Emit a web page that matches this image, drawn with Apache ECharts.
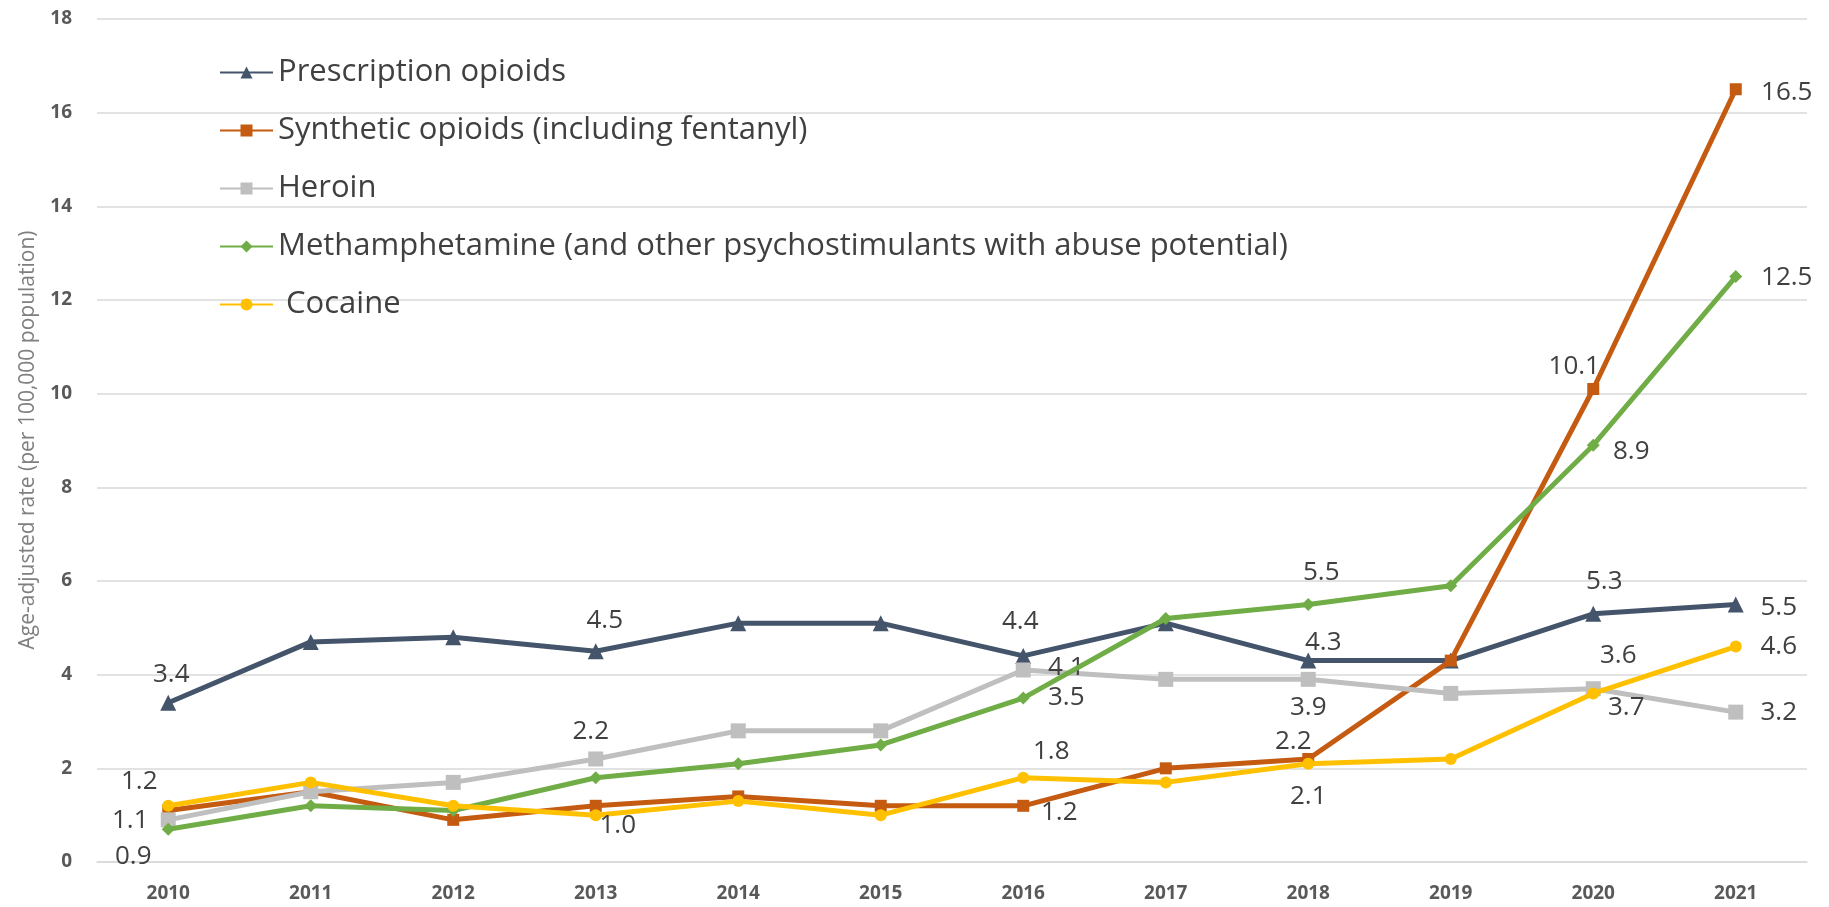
<!DOCTYPE html>
<html>
<head>
<meta charset="utf-8">
<script src="https://cdn.jsdelivr.net/npm/echarts@6/dist/echarts.min.js"></script>
<style>
html,body{margin:0;padding:0;background:#fff;}
#chart{width:1829px;height:907px;}
</style>
</head>
<body>
<div id="chart"></div>
<script>
// ---- data ----
var years = ['2010','2011','2012','2013','2014','2015','2016','2017','2018','2019','2020','2021'];
var seriesNames = ['Prescription opioids','Synthetic opioids (including fentanyl)','Heroin','Methamphetamine (and other psychostimulants with abuse potential)',' Cocaine'];
var prescriptionOpioids = [3.4, 4.7, 4.8, 4.5, 5.1, 5.1, 4.4, 5.1, 4.3, 4.3, 5.3, 5.5];
var syntheticOpioids    = [1.1, 1.5, 0.9, 1.2, 1.4, 1.2, 1.2, 2.0, 2.2, 4.3, 10.1, 16.5];
var heroin              = [0.9, 1.5, 1.7, 2.2, 2.8, 2.8, 4.1, 3.9, 3.9, 3.6, 3.7, 3.2];
var methamphetamine     = [0.7, 1.2, 1.1, 1.8, 2.1, 2.5, 3.5, 5.2, 5.5, 5.9, 8.9, 12.5];
var cocaine             = [1.2, 1.7, 1.2, 1.0, 1.3, 1.0, 1.8, 1.7, 2.1, 2.2, 3.6, 4.6];
var yTicks = [0, 2, 4, 6, 8, 10, 12, 14, 16, 18];
var yTitle = 'Age-adjusted rate (per 100,000 population)';

// ---- styling: which points carry labels and where (offset from marker centre) ----
var labelOffsets = [
  {0:[3,-28], 3:[9,-31], 6:[-3,-34], 8:[15,-18], 10:[11,-32], 11:[43,3]},
  {0:[-38,10], 6:[36,7], 8:[-15,-17], 10:[-19,-22], 11:[51,3]},
  {0:[-35,37], 3:[-5,-27], 6:[43,-2], 8:[0,28], 10:[33,19], 11:[43,0]},
  {6:[43,0], 8:[13,-32], 10:[38,6], 11:[51,1]},
  {0:[-29,-24], 3:[22,10], 6:[28,-26], 8:[0,33], 10:[25,-38], 11:[43,0]}
];
var colors = ['#44546A', '#C55A11', '#BFBFBF', '#70AD47', '#FFC000'];
var symbols = ['triangle', 'rect', 'rect', 'diamond', 'circle'];
var symbolSizes = [16, 12, 15, 13, 12];
var values = [prescriptionOpioids, syntheticOpioids, heroin, methamphetamine, cocaine];

function buildData(vals, offs) {
  return vals.map(function (v, i) {
    if (offs[i]) {
      return {value: v, label: {show: true, position: 'inside', offset: offs[i]}};
    }
    return {value: v};
  });
}

var series = values.map(function (vals, k) {
  return {
    name: seriesNames[k],
    type: 'line',
    data: buildData(vals, labelOffsets[k]),
    symbol: symbols[k],
    symbolSize: symbolSizes[k],
    showAllSymbol: true,
    lineStyle: {color: colors[k], width: 5},
    itemStyle: {color: colors[k]},
    label: {
      show: false,
      color: '#404040',
      fontFamily: 'Open Sans',
      fontSize: 26,
      formatter: function (p) { return p.value.toFixed(1); }
    },
    emphasis: {disabled: true},
    z: 2 + k
  };
});

var chart = echarts.init(document.getElementById('chart'), null, {renderer: 'canvas'});
chart.setOption({
  animation: false,
  backgroundColor: '#ffffff',
  grid: {left: 97, right: 22, top: 19, bottom: 45, containLabel: false},
  legend: {
    orient: 'vertical',
    left: 214,
    top: 52,
    itemWidth: 53,
    itemHeight: 15,
    itemGap: 27,
    data: seriesNames,
    textStyle: {color: '#404040', fontFamily: 'Open Sans', fontSize: 31, lineHeight: 31}
  },
  xAxis: {
    type: 'category',
    data: years,
    boundaryGap: true,
    axisLine: {show: true, lineStyle: {color: '#D9D9D9', width: 1.5}},
    axisTick: {show: false},
    axisLabel: {color: '#595959', fontFamily: 'Open Sans', fontWeight: 'bold', fontSize: 19, margin: 22}
  },
  yAxis: {
    type: 'value',
    min: yTicks[0],
    max: yTicks[yTicks.length - 1],
    interval: 2,
    axisLine: {show: false},
    axisTick: {show: false},
    splitLine: {lineStyle: {color: '#D9D9D9', width: 1.5}},
    axisLabel: {color: '#595959', fontFamily: 'Open Sans', fontWeight: 'bold', fontSize: 19, margin: 25}
  },
  graphic: [{
    type: 'text',
    x: 28,
    y: 440,
    rotation: Math.PI / 2,
    style: {
      text: yTitle,
      fill: '#7F7F7F',
      font: '21px "Open Sans"',
      align: 'center',
      verticalAlign: 'middle'
    }
  }],
  series: series
});
</script>
</body>
</html>
